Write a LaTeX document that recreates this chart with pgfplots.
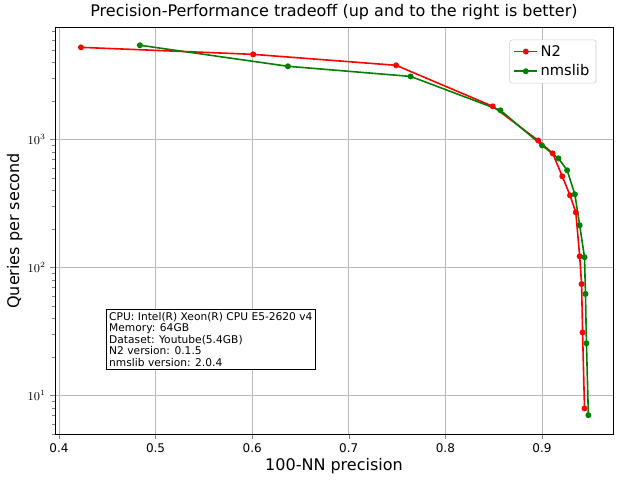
\documentclass[border=0pt]{standalone}
\usepackage{pgfplots}
\pgfplotsset{compat=1.18}
\usepackage{fontspec}
\setmainfont{DejaVu Sans}
\begin{document}
\begin{tikzpicture}
\path (-41.25pt,-34.5pt) rectangle (423.75pt,324.75pt);
\begin{axis}[
 width=418.5pt,height=305.25pt,scale only axis,
 ymode=log,
 xmin=0.3959,xmax=0.9735,ymin=4.96,ymax=7500,
 xtick={0.4,0.5,0.6,0.7,0.8,0.9},
 xticklabel style={/pgf/number format/fixed,/pgf/number format/precision=1},
 /pgf/number format/assume math mode=true,
 tick label style={font=\fontsize{9}{10}\selectfont},
 grid=major, major grid style={gray!55,line width=0.6pt},
 minor tick length=2pt, major tick length=3.5pt,
 tick align=outside, xtick pos=bottom, ytick pos=left,
 title={Precision-Performance tradeoff (up and to the right is better)},
 title style={font=\fontsize{12}{14}\selectfont,yshift=-4pt},
 xlabel={100-NN precision}, ylabel={Queries per second},
 label style={font=\fontsize{12}{14}\selectfont},
 xlabel style={yshift=3pt}, ylabel style={yshift=-3pt},
 legend pos=north east,
 legend style={font=\fontsize{11}{13}\selectfont,draw=gray!40,rounded corners=2pt,row sep=1pt},
 legend cell align=left]
\addplot[red,line width=1.2pt,mark=*,mark size=1.6pt] coordinates {
(0.4228,5230)(0.601,4610)(0.749,3785)(0.849,1810)(0.896,980)(0.911,777)(0.921,514)(0.929,365)(0.935,269)(0.939,122)(0.941,74)(0.942,31)(0.944,7.9)};
\addlegendentry{N2}
\addplot[green!50!black,line width=1.2pt,mark=*,mark size=1.6pt] coordinates {
(0.4838,5430)(0.637,3720)(0.764,3100)(0.857,1685)(0.900,897)(0.917,710)(0.926,573)(0.934,372)(0.939,213)(0.944,120)(0.945,62)(0.946,25.5)(0.948,7)};
\addlegendentry{nmslib}
\node[draw,fill=white,anchor=north west,align=left,inner sep=2pt,font=\fontsize{8}{8.6}\selectfont] at (axis cs:0.449,47) {CPU: Intel(R) Xeon(R) CPU E5-2620 v4\\Memory: 64GB\\Dataset: Youtube(5.4GB)\\N2 version: 0.1.5\\nmslib version: 2.0.4};
\end{axis}
\end{tikzpicture}
\end{document}
